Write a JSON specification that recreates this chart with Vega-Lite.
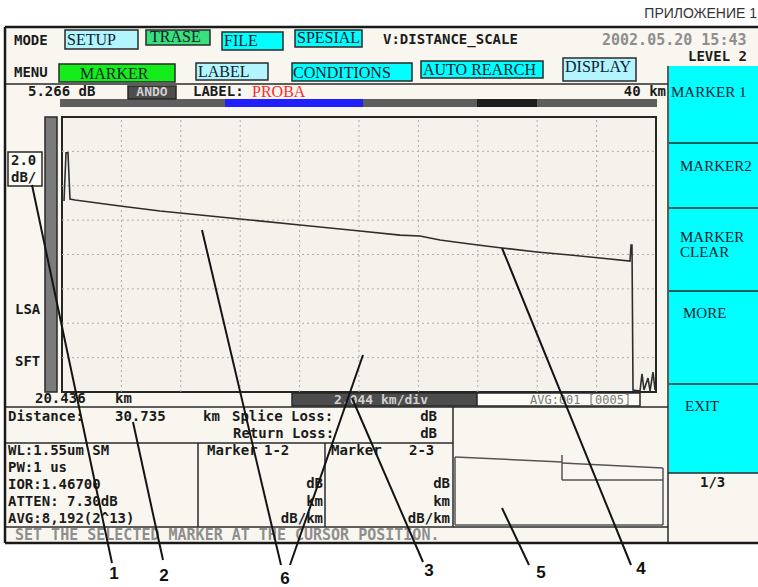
{
 "$schema": "https://vega.github.io/schema/vega-lite/v6.json",
 "width": 758,
 "height": 587,
 "padding": 0,
 "autosize": {"type": "none"},
 "background": "#ffffff",
 "config": {"view": {"stroke": null}},
 "resolve": {"scale": {"x": "independent", "y": "independent"}},
 "layer": [
  {
   "layer": [
    {
     "data": {"values": [
      {"x":5,"x2":758,"y":27,"y2":543,"kind":"screen"},
      {"x":669,"x2":758,"y":66,"y2":473,"kind":"cyan"},
      {"x":60,"x2":657,"y":99,"y2":107,"kind":"bar"},
      {"x":225,"x2":363,"y":99,"y2":107,"kind":"blue"},
      {"x":477,"x2":537,"y":99,"y2":107,"kind":"black"}
     ]},
     "mark": {"type": "rect"},
     "encoding": {
      "x": {"field":"x","type":"quantitative","scale":{"domain":[0,758],"nice":false,"zero":false},"axis":null},
      "x2": {"field":"x2"},
      "y": {"field":"y","type":"quantitative","scale":{"domain":[0,587],"nice":false,"zero":false,"reverse":true},"axis":null},
      "y2": {"field":"y2"},
      "fill": {"field":"kind","type":"nominal","legend":null,"scale":{"domain":["screen","cyan","lightcyan","green","trase","dark","bar","blue","black","white","scale"],"range":["#f8f6ef","#00ffff","#b3f5ff","#14ec1c","#3ae07c","#4d4d4d","#5e5e5e","#2020ff","#1e1e1e","#fcfbf6","#7b7b7b"]}}
     }
    },
    {
     "data": {"values": [
      {"x":65,"x2":138,"y":30,"y2":49,"kind":"lightcyan"},
      {"x":146,"x2":210,"y":30,"y2":45,"kind":"trase"},
      {"x":222,"x2":283,"y":32,"y2":50,"kind":"cyan"},
      {"x":295,"x2":362,"y":30,"y2":47,"kind":"cyan"},
      {"x":59,"x2":175,"y":64,"y2":82,"kind":"green"},
      {"x":196,"x2":268,"y":63,"y2":80,"kind":"lightcyan"},
      {"x":292,"x2":412,"y":63,"y2":81,"kind":"cyan"},
      {"x":421,"x2":543,"y":61,"y2":78,"kind":"cyan"},
      {"x":563,"x2":636,"y":58,"y2":81,"kind":"lightcyan"},
      {"x":128,"x2":176,"y":86,"y2":99,"kind":"dark"},
      {"x":8,"x2":42,"y":152,"y2":186,"kind":"white"},
      {"x":45,"x2":57,"y":117,"y2":392,"kind":"scale"},
      {"x":292,"x2":477,"y":393,"y2":406,"kind":"dark"},
      {"x":477,"x2":640,"y":393,"y2":406,"kind":"white"}
     ]},
     "mark": {"type": "rect", "stroke": "#2a2a2a", "strokeWidth": 1.5},
     "encoding": {
      "x": {"field":"x","type":"quantitative","scale":{"domain":[0,758],"nice":false,"zero":false},"axis":null},
      "x2": {"field":"x2"},
      "y": {"field":"y","type":"quantitative","scale":{"domain":[0,587],"nice":false,"zero":false,"reverse":true},"axis":null},
      "y2": {"field":"y2"},
      "fill": {"field":"kind","type":"nominal","legend":null,"scale":{"domain":["screen","cyan","lightcyan","green","trase","dark","bar","blue","black","white","scale"],"range":["#f8f6ef","#00ffff","#b3f5ff","#14ec1c","#3ae07c","#4d4d4d","#5e5e5e","#2020ff","#1e1e1e","#fcfbf6","#7b7b7b"]}}
     }
    },
    {
     "data": {"values": [
      {"x":5,"y":84,"x2":668,"y2":84},
      {"x":5,"y":407,"x2":668,"y2":407},
      {"x":5,"y":443,"x2":453,"y2":443},
      {"x":198,"y":443,"x2":198,"y2":527},
      {"x":325,"y":443,"x2":325,"y2":527},
      {"x":453,"y":407,"x2":453,"y2":527},
      {"x":5,"y":527,"x2":668,"y2":527},
      {"x":668,"y":66,"x2":668,"y2":543},
      {"x":668,"y":473,"x2":758,"y2":473},
      {"x":669,"y":143,"x2":758,"y2":143},
      {"x":669,"y":208,"x2":758,"y2":208},
      {"x":669,"y":291,"x2":758,"y2":291},
      {"x":669,"y":384,"x2":758,"y2":384}
     ]},
     "mark": {"type": "rule", "color": "#2a2a2a", "strokeWidth": 1.5},
     "encoding": {
      "x": {"field":"x","type":"quantitative","scale":{"domain":[0,758],"nice":false,"zero":false},"axis":null},
      "x2": {"field":"x2"},
      "y": {"field":"y","type":"quantitative","scale":{"domain":[0,587],"nice":false,"zero":false,"reverse":true},"axis":null},
      "y2": {"field":"y2"}
     }
    },
    {
     "data": {"values": [
      {"x":5,"y":27,"x2":758,"y2":27},
      {"x":5,"y":27,"x2":5,"y2":543},
      {"x":5,"y":543,"x2":758,"y2":543}
     ]},
     "mark": {"type": "rule", "color": "#1a1a1a", "strokeWidth": 2.5},
     "encoding": {
      "x": {"field":"x","type":"quantitative","scale":{"domain":[0,758],"nice":false,"zero":false},"axis":null},
      "x2": {"field":"x2"},
      "y": {"field":"y","type":"quantitative","scale":{"domain":[0,587],"nice":false,"zero":false,"reverse":true},"axis":null},
      "y2": {"field":"y2"}
     }
    },
    {
     "data": {"values": [
      {"x":455,"y":457,"x2":455,"y2":525},
      {"x":455,"y":457,"x2":562,"y2":462},
      {"x":562,"y":455,"x2":562,"y2":480},
      {"x":562,"y":463,"x2":663,"y2":468},
      {"x":562,"y":480,"x2":663,"y2":480},
      {"x":663,"y":468,"x2":663,"y2":525},
      {"x":455,"y":525,"x2":663,"y2":525}
     ]},
     "mark": {"type": "rule", "color": "#555555", "strokeWidth": 1.5},
     "encoding": {
      "x": {"field":"x","type":"quantitative","scale":{"domain":[0,758],"nice":false,"zero":false},"axis":null},
      "x2": {"field":"x2"},
      "y": {"field":"y","type":"quantitative","scale":{"domain":[0,587],"nice":false,"zero":false,"reverse":true},"axis":null},
      "y2": {"field":"y2"}
     }
    },
    {
     "data": {"values": [
      {"x":14,"y":41,"t":"MODE"},
      {"x":14,"y":73,"t":"MENU"},
      {"x":383,"y":40,"t":"V:DISTANCE_SCALE"},
      {"x":688,"y":57,"t":"LEVEL 2"},
      {"x":28,"y":92,"t":"5.266 dB"},
      {"x":193,"y":92,"t":"LABEL:"},
      {"x":11,"y":161,"t":"2.0"},
      {"x":11,"y":178,"t":"dB/"},
      {"x":15,"y":310,"t":"LSA"},
      {"x":15,"y":362,"t":"SFT"},
      {"x":35,"y":399,"t":"20.436"},
      {"x":115,"y":399,"t":"km"},
      {"x":8,"y":417,"t":"Distance:"},
      {"x":115,"y":417,"t":"30.735"},
      {"x":203,"y":417,"t":"km"},
      {"x":232,"y":417,"t":"Splice Loss:"},
      {"x":233,"y":434,"t":"Return Loss:"},
      {"x":8,"y":451,"t":"WL:1.55um SM"},
      {"x":8,"y":468,"t":"PW:1 us"},
      {"x":8,"y":485,"t":"IOR:1.46700"},
      {"x":8,"y":502,"t":"ATTEN: 7.30dB"},
      {"x":8,"y":519,"t":"AVG:8,192(2^13)"},
      {"x":207,"y":451,"t":"Marker"},
      {"x":264,"y":451,"t":"1-2"},
      {"x":331,"y":451,"t":"Marker"},
      {"x":409,"y":451,"t":"2-3"},
      {"x":700,"y":483,"t":"1/3"}
     ]},
     "mark": {"type": "text", "font": "DejaVu Sans Mono", "fontWeight": "bold", "fontSize": 14, "color": "#1b1b1b", "align": "left", "baseline": "middle"},
     "encoding": {
      "x": {"field":"x","type":"quantitative","scale":{"domain":[0,758],"nice":false,"zero":false},"axis":null},
      "y": {"field":"y","type":"quantitative","scale":{"domain":[0,587],"nice":false,"zero":false,"reverse":true},"axis":null},
      "text": {"field":"t"}
     }
    },
    {
     "data": {"values": [
      {"x":437,"y":417,"t":"dB"},
      {"x":437,"y":434,"t":"dB"},
      {"x":323,"y":484,"t":"dB"},
      {"x":323,"y":502,"t":"km"},
      {"x":323,"y":519,"t":"dB/km"},
      {"x":450,"y":484,"t":"dB"},
      {"x":450,"y":502,"t":"km"},
      {"x":450,"y":519,"t":"dB/km"},
      {"x":666,"y":92,"t":"40  km"}
     ]},
     "mark": {"type": "text", "font": "DejaVu Sans Mono", "fontWeight": "bold", "fontSize": 14, "color": "#1b1b1b", "align": "right", "baseline": "middle"},
     "encoding": {
      "x": {"field":"x","type":"quantitative","scale":{"domain":[0,758],"nice":false,"zero":false},"axis":null},
      "y": {"field":"y","type":"quantitative","scale":{"domain":[0,587],"nice":false,"zero":false,"reverse":true},"axis":null},
      "text": {"field":"t"}
     }
    },
    {
     "data": {"values": [
      {"x":602,"y":40,"t":"2002.05.20 15:43"},
      {"x":15,"y":535,"t":"SET THE SELECTED MARKER AT THE CURSOR POSITION."}
     ]},
     "mark": {"type": "text", "font": "DejaVu Sans Mono", "fontWeight": "bold", "fontSize": 15, "color": "#8e8e8e", "align": "left", "baseline": "middle"},
     "encoding": {
      "x": {"field":"x","type":"quantitative","scale":{"domain":[0,758],"nice":false,"zero":false},"axis":null},
      "y": {"field":"y","type":"quantitative","scale":{"domain":[0,587],"nice":false,"zero":false,"reverse":true},"axis":null},
      "text": {"field":"t"}
     }
    },
    {
     "data": {"values": [
      {"x":530,"y":400,"t":"AVG:001 [0005]"}
     ]},
     "mark": {"type": "text", "font": "DejaVu Sans Mono", "fontSize": 12, "color": "#7a7a7a", "align": "left", "baseline": "middle"},
     "encoding": {
      "x": {"field":"x","type":"quantitative","scale":{"domain":[0,758],"nice":false,"zero":false},"axis":null},
      "y": {"field":"y","type":"quantitative","scale":{"domain":[0,587],"nice":false,"zero":false,"reverse":true},"axis":null},
      "text": {"field":"t"}
     }
    },
    {
     "data": {"values": [
      {"x":152,"y":92,"t":"ANDO"},
      {"x":381,"y":400,"t":"2.044 km/div"}
     ]},
     "mark": {"type": "text", "font": "DejaVu Sans Mono", "fontWeight": "bold", "fontSize": 13, "color": "#d0d0d0", "align": "center", "baseline": "middle"},
     "encoding": {
      "x": {"field":"x","type":"quantitative","scale":{"domain":[0,758],"nice":false,"zero":false},"axis":null},
      "y": {"field":"y","type":"quantitative","scale":{"domain":[0,587],"nice":false,"zero":false,"reverse":true},"axis":null},
      "text": {"field":"t"}
     }
    },
    {
     "data": {"values": [
      {"x":67,"y":40,"t":"SETUP"},
      {"x":150,"y":37,"t":"TRASE"},
      {"x":224,"y":41,"t":"FILE"},
      {"x":297,"y":38,"t":"SPESIAL"},
      {"x":80,"y":74,"t":"MARKER"},
      {"x":198,"y":72,"t":"LABEL"},
      {"x":293,"y":73,"t":"CONDITIONS"},
      {"x":423,"y":70,"t":"AUTO REARCH"},
      {"x":565,"y":67,"t":"DISPLAY"}
     ]},
     "mark": {"type": "text", "font": "Liberation Serif", "fontSize": 16, "color": "#10202e", "align": "left", "baseline": "middle"},
     "encoding": {
      "x": {"field":"x","type":"quantitative","scale":{"domain":[0,758],"nice":false,"zero":false},"axis":null},
      "y": {"field":"y","type":"quantitative","scale":{"domain":[0,587],"nice":false,"zero":false,"reverse":true},"axis":null},
      "text": {"field":"t"}
     }
    },
    {
     "data": {"values": [
      {"x":671,"y":92,"t":"MARKER 1"},
      {"x":680,"y":166,"t":"MARKER2"},
      {"x":680,"y":237,"t":"MARKER"},
      {"x":680,"y":252,"t":"CLEAR"},
      {"x":683,"y":313,"t":"MORE"},
      {"x":685,"y":406,"t":"EXIT"}
     ]},
     "mark": {"type": "text", "font": "Liberation Serif", "fontSize": 15, "color": "#10202e", "align": "left", "baseline": "middle"},
     "encoding": {
      "x": {"field":"x","type":"quantitative","scale":{"domain":[0,758],"nice":false,"zero":false},"axis":null},
      "y": {"field":"y","type":"quantitative","scale":{"domain":[0,587],"nice":false,"zero":false,"reverse":true},"axis":null},
      "text": {"field":"t"}
     }
    },
    {
     "data": {"values": [
      {"x":252,"y":92,"t":"PROBA"}
     ]},
     "mark": {"type": "text", "font": "Liberation Serif", "fontSize": 16, "color": "#ff2a2a", "align": "left", "baseline": "middle"},
     "encoding": {
      "x": {"field":"x","type":"quantitative","scale":{"domain":[0,758],"nice":false,"zero":false},"axis":null},
      "y": {"field":"y","type":"quantitative","scale":{"domain":[0,587],"nice":false,"zero":false,"reverse":true},"axis":null},
      "text": {"field":"t"}
     }
    },
    {
     "data": {"values": [
      {"x":757,"y":14,"t":"ПРИЛОЖЕНИЕ 1"}
     ]},
     "mark": {"type": "text", "font": "Liberation Sans", "fontSize": 14, "color": "#333333", "align": "right", "baseline": "middle"},
     "encoding": {
      "x": {"field":"x","type":"quantitative","scale":{"domain":[0,758],"nice":false,"zero":false},"axis":null},
      "y": {"field":"y","type":"quantitative","scale":{"domain":[0,587],"nice":false,"zero":false,"reverse":true},"axis":null},
      "text": {"field":"t"}
     }
    }
   ]
  },
  {
   "layer": [
    {
     "data": {"values": [{"km":0,"km2":20.44,"db":0,"db2":16}]},
     "mark": {"type": "rect", "fill": "#f4f2ea", "stroke": "#262626", "strokeWidth": 2},
     "encoding": {
      "x": {"field":"km","type":"quantitative","scale":{"domain":[-2.1335,23.95],"nice":false,"zero":false},"axis":null},
      "x2": {"field":"km2"},
      "y": {"field":"db","type":"quantitative","scale":{"domain":[-11.345,22.807],"nice":false,"zero":false},"axis":null},
      "y2": {"field":"db2"}
     }
    },
    {
     "data": {"values": [
      {"km":2.044},{"km":4.088},{"km":6.132},{"km":8.176},{"km":10.22},
      {"km":12.264},{"km":14.308},{"km":16.352},{"km":18.396}
     ]},
     "mark": {"type": "rule", "color": "#acacac", "strokeWidth": 1, "strokeDash": [2, 3]},
     "encoding": {
      "x": {"field":"km","type":"quantitative","scale":{"domain":[-2.1335,23.95],"nice":false,"zero":false},"axis":null},
      "y": {"datum":0,"type":"quantitative","scale":{"domain":[-11.345,22.807],"nice":false,"zero":false},"axis":null},
      "y2": {"datum":16}
     }
    },
    {
     "data": {"values": [
      {"db":2},{"db":4},{"db":6},{"db":8},{"db":10},{"db":12},{"db":14}
     ]},
     "mark": {"type": "rule", "color": "#acacac", "strokeWidth": 1, "strokeDash": [2, 3]},
     "encoding": {
      "y": {"field":"db","type":"quantitative","scale":{"domain":[-11.345,22.807],"nice":false,"zero":false},"axis":null},
      "x": {"datum":0,"type":"quantitative","scale":{"domain":[-2.1335,23.95],"nice":false,"zero":false},"axis":null},
      "x2": {"datum":20.44}
     }
    },
    {
     "data": {"values": [
      {"km":0.069,"db":11.11},
      {"km":0.138,"db":13.91},
      {"km":0.206,"db":13.91},
      {"km":0.275,"db":11.23},
      {"km":0.447,"db":11.17},
      {"km":1.996,"db":10.82},
      {"km":3.372,"db":10.53},
      {"km":4.749,"db":10.30},
      {"km":6.469,"db":10.01},
      {"km":8.190,"db":9.72},
      {"km":9.222,"db":9.54},
      {"km":10.254,"db":9.37},
      {"km":11.631,"db":9.13},
      {"km":12.319,"db":9.08},
      {"km":13.007,"db":8.84},
      {"km":14.040,"db":8.61},
      {"km":15.141,"db":8.38},
      {"km":16.345,"db":8.15},
      {"km":17.481,"db":7.97},
      {"km":18.513,"db":7.80},
      {"km":19.545,"db":7.62},
      {"km":19.580,"db":8.55},
      {"km":19.614,"db":8.55},
      {"km":19.649,"db":0.12},
      {"km":19.890,"db":0.06},
      {"km":19.958,"db":1.05},
      {"km":20.027,"db":0.12},
      {"km":20.165,"db":0.81},
      {"km":20.234,"db":0.06},
      {"km":20.337,"db":1.16},
      {"km":20.406,"db":0.12}
     ]},
     "mark": {"type": "line", "color": "#2e2e2e", "strokeWidth": 1.6},
     "encoding": {
      "x": {"field":"km","type":"quantitative","scale":{"domain":[-2.1335,23.95],"nice":false,"zero":false},"axis":null},
      "y": {"field":"db","type":"quantitative","scale":{"domain":[-11.345,22.807],"nice":false,"zero":false},"axis":null}
     }
    }
   ]
  },
  {
   "layer": [
    {
     "data": {"values": [
      {"x":32,"y":185,"x2":112,"y2":563},
      {"x":133,"y":422,"x2":163,"y2":560},
      {"x":202,"y":230,"x2":281,"y2":565},
      {"x":363,"y":355,"x2":290,"y2":565},
      {"x":352,"y":398,"x2":423,"y2":562},
      {"x":502,"y":248,"x2":631,"y2":565},
      {"x":502,"y":508,"x2":529,"y2":565}
     ]},
     "mark": {"type": "rule", "color": "#141414", "strokeWidth": 2},
     "encoding": {
      "x": {"field":"x","type":"quantitative","scale":{"domain":[0,758],"nice":false,"zero":false},"axis":null},
      "x2": {"field":"x2"},
      "y": {"field":"y","type":"quantitative","scale":{"domain":[0,587],"nice":false,"zero":false,"reverse":true},"axis":null},
      "y2": {"field":"y2"}
     }
    },
    {
     "data": {"values": [
      {"x":114,"y":574,"t":"1"},
      {"x":164,"y":576,"t":"2"},
      {"x":285,"y":579,"t":"6"},
      {"x":429,"y":571,"t":"3"},
      {"x":541,"y":573,"t":"5"},
      {"x":641,"y":569,"t":"4"}
     ]},
     "mark": {"type": "text", "font": "Liberation Sans", "fontWeight": "bold", "fontSize": 17, "color": "#111111", "align": "center", "baseline": "middle"},
     "encoding": {
      "x": {"field":"x","type":"quantitative","scale":{"domain":[0,758],"nice":false,"zero":false},"axis":null},
      "y": {"field":"y","type":"quantitative","scale":{"domain":[0,587],"nice":false,"zero":false,"reverse":true},"axis":null},
      "text": {"field":"t"}
     }
    }
   ]
  }
 ]
}
